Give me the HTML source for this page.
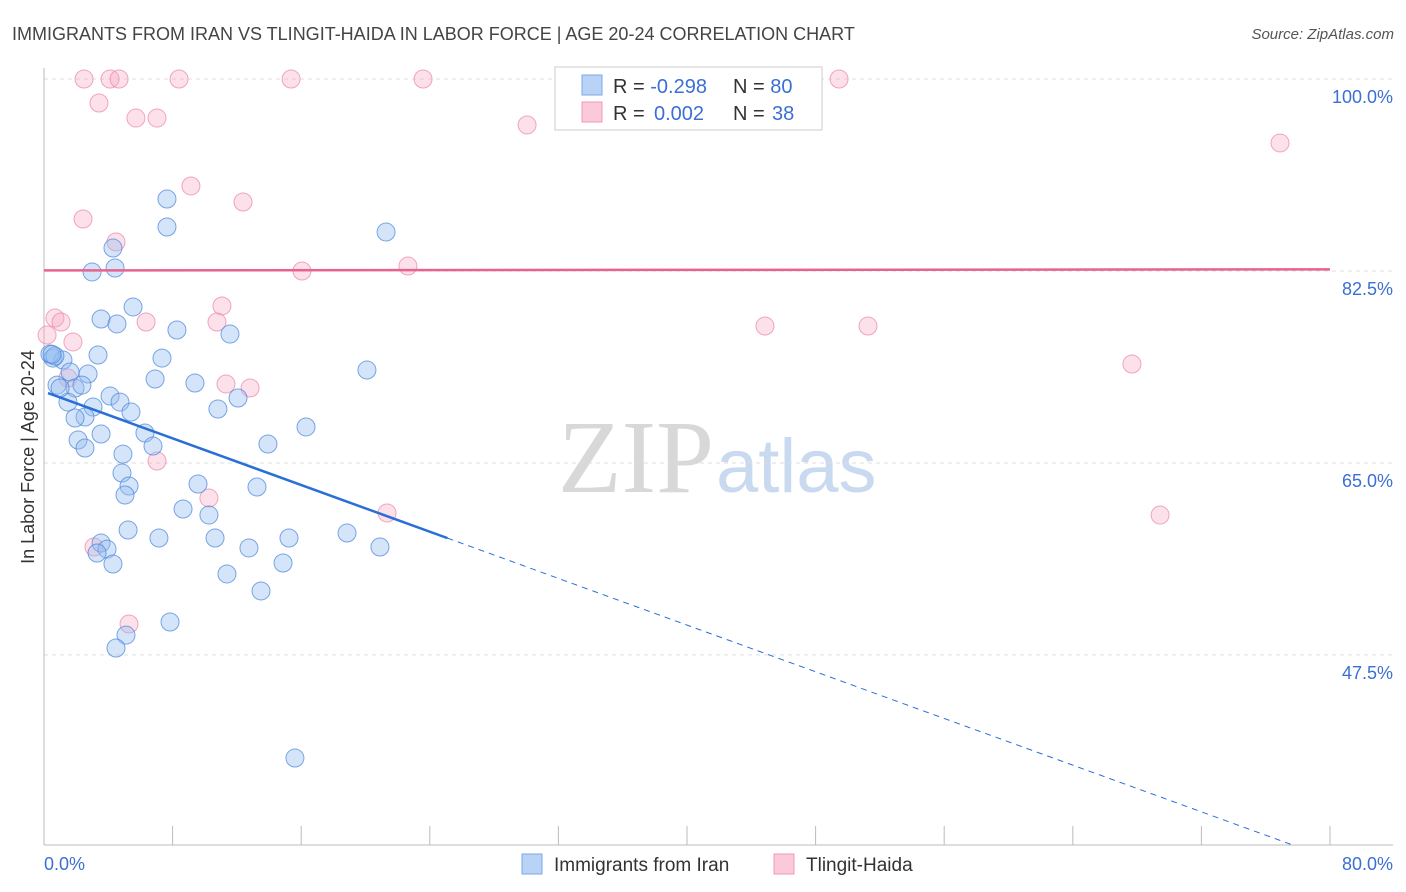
<!DOCTYPE html>
<html><head><meta charset="utf-8"><style>
body{margin:0;background:#fff;font-family:"Liberation Sans",sans-serif;}
svg{display:block}
</style></head><body>
<svg id="chart" width="1406" height="892" xmlns="http://www.w3.org/2000/svg">
<text x="12" y="40" font-size="18" fill="#444">IMMIGRANTS FROM IRAN VS TLINGIT-HAIDA IN LABOR FORCE | AGE 20-24 CORRELATION CHART</text>
<text x="1394" y="39" font-size="15" fill="#555" text-anchor="end" font-style="italic">Source: ZipAtlas.com</text>
<text x="714" y="492" font-size="104" fill="#d8d8d8" text-anchor="end" font-family="Liberation Serif,serif">ZIP</text>
<text x="716" y="492" font-size="76" fill="#c9daf0">atlas</text>
<g id="grid"></g><g id="marks"></g>
<text transform="translate(34,457) rotate(-90)" font-size="18" fill="#333" text-anchor="middle">In Labor Force | Age 20-24</text>
<text x="44" y="870" font-size="18" fill="#3b6fd4">0.0%</text>
<text x="1393" y="870" font-size="18" fill="#3b6fd4" text-anchor="end">80.0%</text>
<g>
<rect x="555" y="67" width="267" height="63" fill="#fff" stroke="#ccc"/>
<rect x="582" y="75" width="20" height="20" fill="#b9d3f7" stroke="#7aa7e8"/>
<rect x="582" y="102" width="20" height="20" fill="#fbc9d8" stroke="#f19ab6"/>
<text x="613" y="93" font-size="20" fill="#333">R = <tspan fill="#3b6fd4">-0.298</tspan><tspan x="733">N = </tspan><tspan fill="#3b6fd4">80</tspan></text>
<text x="613" y="120" font-size="20" fill="#333">R = <tspan fill="#3b6fd4" x="654">0.002</tspan><tspan x="733">N = </tspan><tspan fill="#3b6fd4" x="772">38</tspan></text>
</g>
<g>
<rect x="522" y="854" width="20" height="20" fill="#b9d3f7" stroke="#7aa7e8"/>
<text x="554" y="871" font-size="19" fill="#333">Immigrants from Iran</text>
<rect x="774" y="854" width="20" height="20" fill="#fbc9d8" stroke="#f19ab6"/>
<text x="806" y="871" font-size="19" fill="#333">Tlingit-Haida</text>
</g>
</svg>
<script>
const yTicks=[100,82.5,65,47.5];
const yTickLabels=["100.0%","82.5%","65.0%","47.5%"];
const xTicks=[0,8,16,24,32,40,48,56,64,72,80];
const iranX=[7.65,7.65,21.28,4.29,4.42,2.99,5.54,3.55,4.54,8.27,11.57,3.36,7.34,0.56,1.18,20.09,6.91,9.39,1.62,2.74,0.81,1.93,4.11,4.73,12.07,1.49,3.05,5.41,10.82,2.55,1.93,16.30,6.28,3.55,2.12,2.55,6.78,13.93,4.91,4.85,9.58,5.29,5.04,13.25,8.65,10.26,5.23,18.85,7.15,10.64,15.24,3.55,3.92,3.30,12.75,20.90,4.29,14.87,11.38,13.50,7.84,5.10,4.48,15.61,0.37,0.68,1.00,2.36,0.5];
const iranY=[89.06,86.51,86.05,84.59,82.77,82.41,79.22,78.12,77.67,77.12,76.75,74.84,74.56,74.56,74.38,73.47,72.65,72.29,73.29,73.11,72.10,71.83,71.10,70.55,70.92,70.55,70.10,69.64,69.92,69.19,69.10,68.28,67.73,67.64,67.09,66.36,66.54,66.73,65.81,64.08,63.08,62.90,62.08,62.81,60.80,60.25,58.89,58.61,58.16,58.16,58.16,57.70,57.15,56.79,57.25,57.34,55.79,55.88,54.88,53.33,50.50,49.31,48.13,38.10,74.93,74.75,71.83,72.10,74.9];
const tlingitX=[2.49,4.11,4.67,8.40,15.37,23.58,49.46,3.42,5.72,7.03,30.05,76.89,9.14,12.38,2.43,4.48,16.05,22.64,11.07,0.68,1.06,6.35,10.76,44.85,51.26,1.80,67.68,11.32,12.82,7.03,10.26,21.34,69.43,3.11,5.29,1.49,0.19];
const tlingitY=[100,100,100,100,100,100,100,97.81,96.44,96.44,95.81,94.17,90.25,88.79,87.24,85.14,82.50,82.95,79.31,78.21,77.85,77.85,77.85,77.48,77.48,76.03,74.02,72.20,71.83,65.18,61.80,60.44,60.25,57.34,50.32,72.74,76.66];
const iranTrend=[71.5,-0.532];
const tlingitTrend=[82.55,0.00125];
const NS="http://www.w3.org/2000/svg";
const sx=v=>44+v/80*1286;
const sy=v=>79+(100-v)*10.97;
const grid=document.getElementById('grid'),marks=document.getElementById('marks');
function mk(tag,attrs,parent){const e=document.createElementNS(NS,tag);for(const k in attrs)e.setAttribute(k,attrs[k]);parent.appendChild(e);return e;}
yTicks.forEach((t,i)=>{
 const l=mk('line',{x1:44,x2:1393,y1:sy(t),y2:sy(t),stroke:'#ddd','stroke-dasharray':'4,4'},grid);
 
 
 const tx=mk('text',{x:1393,y:sy(t)+24,'font-size':18,fill:'#3b6fd4','text-anchor':'end'},grid);
 tx.textContent=yTickLabels[i];
 
 
});
const ax=mk('line',{x1:44,x2:1393,y1:845,y2:845,stroke:'#bbb'},grid);


const ay=mk('line',{x1:44,x2:44,y1:68,y2:845,stroke:'#bbb'},grid);


xTicks.forEach(t=>{
 const l=mk('line',{x1:sx(t),x2:sx(t),y1:826,y2:845,stroke:'#bbb'},grid);
 
 
});
tlingitX.forEach((x,i)=>{
 const c=mk('circle',{cx:sx(x),cy:sy(tlingitY[i]),r:9,fill:'rgba(246,170,195,0.35)',stroke:'rgba(236,130,165,0.7)','stroke-width':1},marks);
 
 
});
iranX.forEach((x,i)=>{
 const c=mk('circle',{cx:sx(x),cy:sy(iranY[i]),r:9,fill:'rgba(150,190,240,0.4)',stroke:'rgba(70,130,220,0.7)','stroke-width':1},marks);
 
 
});
const f=(tr,x)=>tr[0]+tr[1]*x;
const pl=mk('line',{x1:sx(0),y1:sy(f(tlingitTrend,0)),x2:sx(80),y2:sy(f(tlingitTrend,80)),stroke:'#e8628f','stroke-width':2.5},marks);


const bl=mk('line',{x1:sx(0.25),y1:sy(f(iranTrend,0.25)),x2:sx(25.1),y2:sy(f(iranTrend,25.1)),stroke:'#2a6fd6','stroke-width':2.5},marks);


const bd=mk('line',{x1:sx(25.1),y1:sy(f(iranTrend,25.1)),x2:sx(77.8),y2:sy(f(iranTrend,77.8)),stroke:'#2a6fd6','stroke-width':1,'stroke-dasharray':'6,5'},marks);


</script>
</body></html>
